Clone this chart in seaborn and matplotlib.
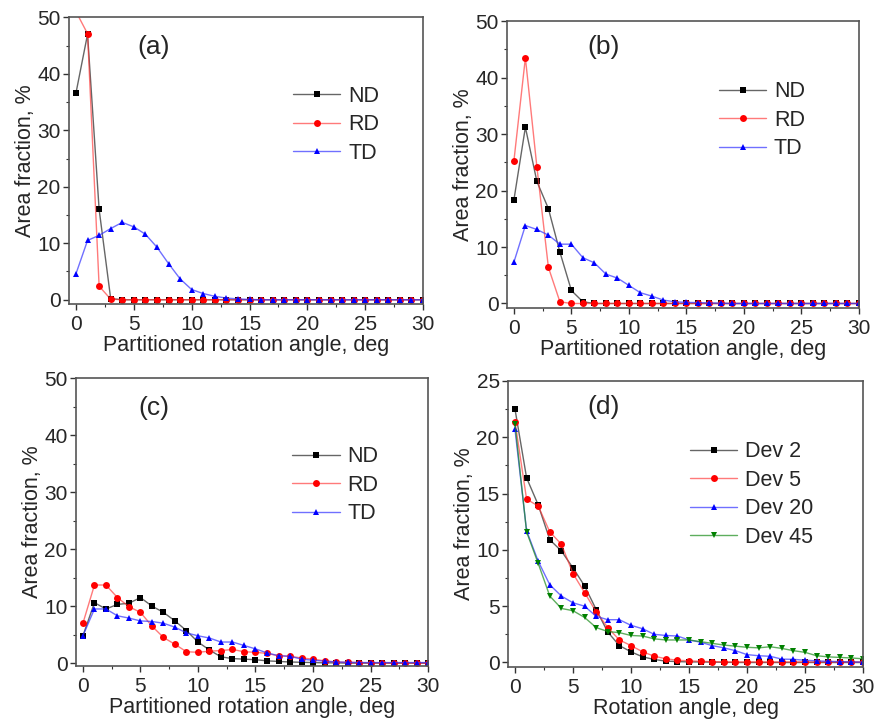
import numpy as np
import pandas as pd
import matplotlib
matplotlib.use('Agg')
import matplotlib.pyplot as plt
from matplotlib.ticker import MultipleLocator
import seaborn as sns

# angles 0..30 deg
angles = list(range(31))

# (a)
a_nd = [36.6, 47.0, 16.0, 0.2] + [0.0] * 27
a_rd = [51.0, 47.1, 2.4, 0.1] + [0.0] * 27
a_td = [4.6, 10.5, 11.4, 12.6, 13.7, 12.9, 11.6, 9.3, 6.4, 3.7, 1.8, 1.1, 0.6, 0.3, 0.15,
        0.05] + [0.0] * 15

# (b)
b_nd = [18.3, 31.2, 21.6, 16.8, 9.1, 2.3, 0.3] + [0.0] * 24
b_rd = [25.2, 43.5, 24.2, 6.4, 0.3] + [0.0] * 26
b_td = [7.3, 13.8, 13.1, 12.1, 10.5, 10.5, 8.1, 7.2, 5.2, 4.5, 3.2, 1.9, 1.3, 0.6, 0.3,
        0.2, 0.15, 0.1, 0.05] + [0.0] * 12

# (c)
c_nd = [4.8, 10.6, 9.5, 10.3, 10.5, 11.5, 10.0, 8.9, 7.4, 5.7, 3.7, 2.3, 1.1, 0.8, 0.7,
        0.6, 0.4, 0.3, 0.2, 0.15, 0.1, 0.05, 0.05] + [0.0] * 8
c_rd = [7.0, 13.7, 13.7, 11.5, 9.9, 8.9, 6.5, 4.5, 3.3, 2.0, 1.9, 2.1, 2.2, 2.4, 2.0,
        1.9, 1.7, 1.3, 1.2, 0.9, 0.7, 0.4, 0.2, 0.15, 0.1, 0.05, 0.05, 0.0, 0.0, 0.0, 0.0]
c_td = [4.8, 9.5, 9.5, 8.3, 7.9, 7.4, 7.3, 7.0, 6.3, 5.3, 4.8, 4.4, 3.7, 3.7, 3.1,
        2.5, 1.8, 1.3, 1.2, 0.7, 0.5, 0.35, 0.2, 0.15, 0.1, 0.1, 0.1, 0.1, 0.1, 0.1, 0.1]

# (d)
d_dev2 = [22.5, 16.4, 14.0, 10.9, 9.9, 8.4, 6.8, 4.7, 2.7, 1.5, 0.95, 0.5, 0.27, 0.12, 0.08,
          0.05, 0.05, 0.03, 0.02] + [0.0] * 12
d_dev5 = [21.4, 14.5, 13.9, 11.6, 10.5, 7.9, 6.2, 4.5, 3.1, 2.0, 1.5, 0.95, 0.56, 0.33, 0.2,
          0.15, 0.1, 0.08, 0.05, 0.05, 0.05, 0.05, 0.05, 0.05, 0.05, 0.05, 0.05, 0.05, 0.05, 0.05, 0.05]
d_dev20 = [20.7, 11.7, 9.0, 6.9, 5.9, 5.3, 5.0, 4.1, 3.8, 3.8, 3.3, 3.0, 2.5, 2.4, 2.35,
           2.0, 1.8, 1.5, 1.3, 1.05, 0.7, 0.6, 0.55, 0.3, 0.28, 0.2, 0.15, 0.1, 0.08, 0.05, 0.03]
d_dev45 = [21.2, 11.6, 8.8, 5.9, 4.8, 4.6, 4.0, 3.1, 2.75, 2.65, 2.4, 2.35, 2.1, 2.0, 2.0,
           2.0, 1.85, 1.7, 1.55, 1.45, 1.35, 1.3, 1.4, 1.25, 1.05, 0.9, 0.6, 0.5, 0.45, 0.4, 0.33]

dir_labels = ['ND', 'RD', 'TD']
dev_labels = ['Dev 2', 'Dev 5', 'Dev 20', 'Dev 45']
colors = ['#000000', '#ff0000', '#0000ff', '#008000']
line_colors = [(0.25, 0.25, 0.25, 0.8), (1, 0.2, 0.2, 0.65), (0.2, 0.2, 1, 0.7), (0.1, 0.55, 0.1, 0.7)]
marks = ['s', 'o', '^', 'v']

sns.set_style('ticks')
plt.rcParams['font.family'] = ['Liberation Sans', 'DejaVu Sans']

fig = plt.figure(figsize=(8.75, 7.21), dpi=100)

panels = [
    dict(pos=[0.0789, 0.578, 0.4046, 0.398], series=[a_nd, a_rd, a_td], labels=dir_labels,
         tag='(a)', tagxy=(0.24, 0.895), leg=(0.633, 0.762), ymax=50, ylo=-0.8,
         xlabel='Partitioned rotation angle, deg'),
    dict(pos=[0.5794, 0.5728, 0.4023, 0.398], series=[b_nd, b_rd, b_td], labels=dir_labels,
         tag='(b)', tagxy=(0.273, 0.909), leg=(0.602, 0.79), ymax=50, ylo=-0.8,
         xlabel='Partitioned rotation angle, deg'),
    dict(pos=[0.0869, 0.0763, 0.4023, 0.3994], series=[c_nd, c_rd, c_td], labels=dir_labels,
         tag='(c)', tagxy=(0.22, 0.896), leg=(0.614, 0.763), ymax=50, ylo=-0.5,
         xlabel='Partitioned rotation angle, deg'),
    dict(pos=[0.5806, 0.0749, 0.4057, 0.3967], series=[d_dev2, d_dev5, d_dev20, d_dev45],
         labels=dev_labels, tag='(d)', tagxy=(0.268, 0.909), leg=(0.513, 0.789), ymax=25,
         ylo=-0.4, xlabel='Rotation angle, deg'),
]

for p in panels:
    ax = fig.add_axes(p['pos'])
    for i, (vals, lab) in enumerate(zip(p['series'], p['labels'])):
        df = pd.DataFrame({'angle': angles, 'frac': vals})
        sns.lineplot(data=df, x='angle', y='frac', ax=ax, color=line_colors[i], marker=marks[i],
                     markersize=5, markeredgewidth=0, markerfacecolor=colors[i],
                     linewidth=1, label=lab)
    ax.set_xlim(-0.6, 30)
    ax.set_ylim(p['ylo'], p['ymax'])
    ax.xaxis.set_major_locator(MultipleLocator(5))
    ax.xaxis.set_minor_locator(MultipleLocator(2.5))
    if p['ymax'] == 50:
        ax.yaxis.set_major_locator(MultipleLocator(10))
        ax.yaxis.set_minor_locator(MultipleLocator(5))
    else:
        ax.yaxis.set_major_locator(MultipleLocator(5))
        ax.yaxis.set_minor_locator(MultipleLocator(2.5))
    ax.tick_params(which='major', direction='out', length=4, width=1, labelsize=15,
                   color='#333333', pad=2)
    ax.tick_params(axis='x', which='major', pad=4)
    ax.tick_params(which='minor', direction='out', length=2.5, width=0.8, color='#333333')
    for s in ax.spines.values():
        s.set_visible(True)
        s.set_color('#555555')
        s.set_linewidth(1.2)
    ax.set_xlabel(p['xlabel'], fontsize=15.5, labelpad=0.5)
    ax.set_ylabel('Area fraction, %', fontsize=15.5, labelpad=1)
    ax.text(p['tagxy'][0], p['tagxy'][1], p['tag'], transform=ax.transAxes,
            fontsize=19, ha='center', va='center')
    ax.legend(loc='upper left', bbox_to_anchor=p['leg'], frameon=False, fontsize=15.5,
              handlelength=2.2, handletextpad=0.35, labelspacing=0.35, borderpad=0,
              borderaxespad=0, numpoints=1)

fig.savefig('out.png', dpi=100)
